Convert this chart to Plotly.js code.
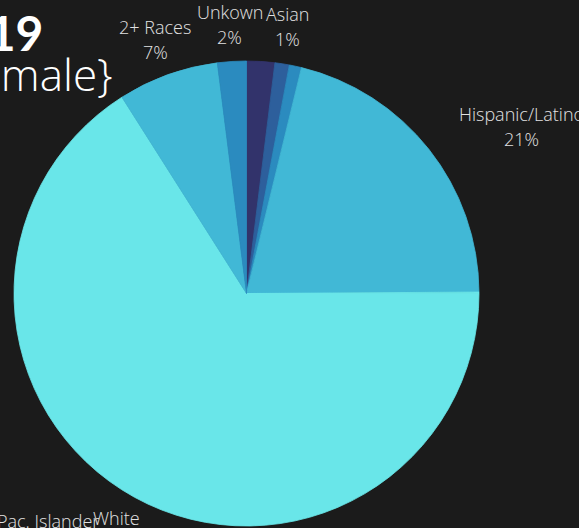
<!DOCTYPE html>
<html><head><meta charset="utf-8">
<script src="https://cdn.plot.ly/plotly-3.0.1.min.js"></script>
<style>html,body{margin:0;padding:0;background:#1b1b1b;overflow:hidden}</style>
</head><body><div id="chart" style="width:579px;height:528px"></div>
<script>
// ---- data ----
const categories = ["Am. Indian", "Asian", "Black", "Hispanic/Latino", "Pac. Islander", "White", "2+ Races", "Unkown"];
const shares = [1.95, 1.0, 0.85, 21.1, 0.1, 66.0, 7.0, 2.0];
const sliceColors = ["#32336b", "#2d5f9c", "#2b8bbf", "#41b8d6", "#69e6e9", "#69e6e9", "#41b8d6", "#2b8bbf"];
const titleYear = "2019";
const titleGroup = "{Female}";

// ---- layout geometry ----
const W = 579, H = 528, M = {l: 14, r: 100, t: 61, b: 2};
const PW = W - M.l - M.r, PH = H - M.t - M.b;
const cx = M.l + PW / 2, cy = M.t + PH / 2, rad = Math.min(PW, PH) / 2;
const labelR = rad * 1.1613;
const px2x = px => (px - M.l) / PW;
const py2y = py => (H - M.b - py) / PH;

const LF = {family: '"Open Sans", sans-serif', size: 18, weight: 300, color: '#e2e2e2'};
const ctx = document.createElement('canvas').getContext('2d');
ctx.font = '300 18px "Open Sans"';

const total = shares.reduce((a, b) => a + b, 0);
let cum = 0;
const items = shares.map((v, i) => {
  const a0 = cum / total * 360; cum += v; const a1 = cum / total * 360;
  return {i, v, share: v / total * 100, mid: (a0 + a1) / 2, pct: Math.round(v / total * 100)};
});
const order = items.slice().sort((a, b) => b.v - a.v);
const annotations = [];
const placed = [];
let main = null;
order.forEach(it => {
  const th = it.mid * Math.PI / 180;
  const s = Math.sin(th), c = Math.cos(th);
  const name = categories[it.i], pctTxt = it.pct + '%';
  const w = Math.max(ctx.measureText(name).width, ctx.measureText(pctTxt).width) + 2;
  const tiny = it.share < 0.5;
  let x, y, anchor;
  if (tiny && main) { anchor = 'right'; x = main.x0 + 8; y = main.y + 3; }
  else {
    x = cx + labelR * s; y = cy - labelR * c;
    anchor = s > 0.7 ? 'left' : (s < -0.7 ? 'right' : 'center');
  }
  const x0 = anchor === 'left' ? x : anchor === 'right' ? x - w : x - w / 2;
  const box = {x0: x0 + 1, x1: x0 + w - 1, y0: y - 25, y1: y + 25};
  if (!tiny && placed.some(b => b.x0 < box.x1 && box.x0 < b.x1 && b.y0 < box.y1 && box.y0 < b.y1)) return;
  placed.push(box);
  if (!main) main = {x0, y};
  const xc = x0 + w / 2;
  [[name, -12.5], [pctTxt, 12.5]].forEach(([t, dy]) => annotations.push({
    text: t, x: px2x(xc), y: py2y(y + dy), xref: 'paper', yref: 'paper',
    xanchor: 'center', yanchor: 'middle', showarrow: false, font: LF
  }));
});

annotations.push({text: titleYear, x: px2x(45), y: py2y(32.5), xref: 'paper', yref: 'paper',
  xanchor: 'right', yanchor: 'middle', showarrow: false,
  font: {family: 'Lato, sans-serif', size: 48, weight: 700, color: '#ffffff'}});
annotations.push({text: titleGroup, x: px2x(115), y: py2y(74), xref: 'paper', yref: 'paper',
  xanchor: 'right', yanchor: 'middle', showarrow: false,
  font: {family: '"Open Sans", sans-serif', size: 44, weight: 300, color: '#ffffff'}});

const trace = {
  type: 'pie', labels: categories, values: shares, sort: false,
  direction: 'clockwise', rotation: 0,
  marker: {colors: sliceColors, line: {width: 0.8, color: sliceColors}},
  textinfo: 'none', hoverinfo: 'label+percent', showlegend: false
};
const layout = {
  width: W, height: H, margin: {l: M.l, r: M.r, t: M.t, b: M.b, pad: 0},
  paper_bgcolor: '#1b1b1b', plot_bgcolor: '#1b1b1b', showlegend: false,
  annotations
};
Plotly.newPlot('chart', [trace], layout, {displayModeBar: false, staticPlot: true});
</script></body></html>
